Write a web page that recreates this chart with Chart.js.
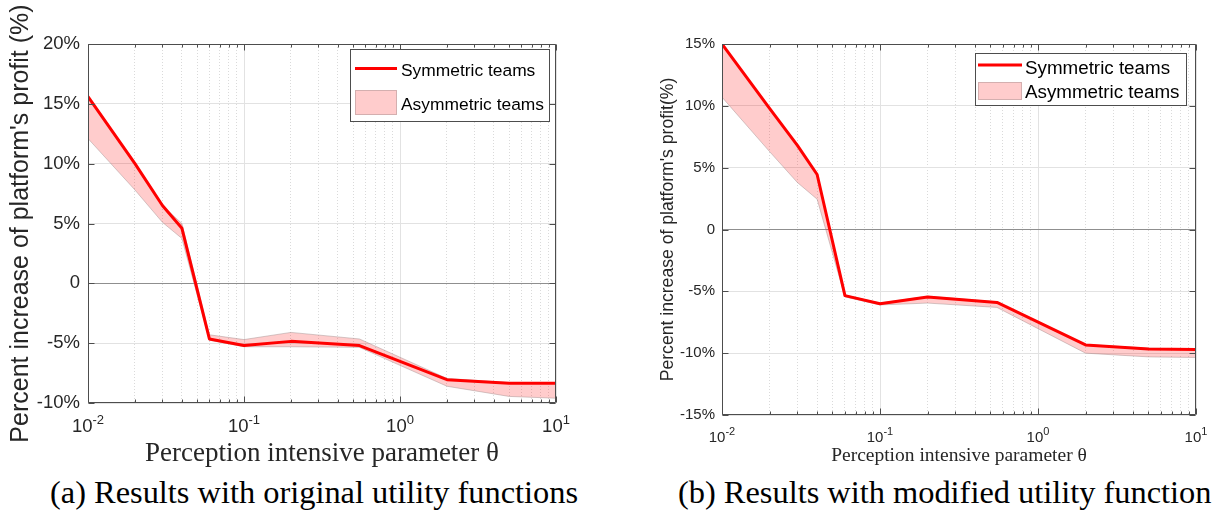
<!DOCTYPE html>
<html>
<head>
<meta charset="utf-8">
<script src="https://cdn.jsdelivr.net/npm/chart.js@4.4.0/dist/chart.umd.min.js"></script>
<style>
  html, body { margin: 0; padding: 0; background: #fff; }
  body { width: 1212px; height: 514px; position: relative; overflow: hidden; }
  .panel { position: absolute; top: 0; height: 470px; }
  #panelA { left: 0; width: 610px; }
  #panelB { left: 610px; width: 602px; }
  .caption { position: absolute; top: 476px; font-family: 'Liberation Serif', serif; font-size: 32.4px; line-height: 32px; color: #000; white-space: nowrap; }
</style>
</head>
<body>
<div class="panel" id="panelA"><canvas id="chartA" width="610" height="470"></canvas></div>
<div class="panel" id="panelB"><canvas id="chartB" width="602" height="470"></canvas></div>
<div class="caption" style="left:50px">(a) Results with original utility functions</div>
<div class="caption" style="left:678px">(b) Results with modified utility functions</div>

<script>
// perception parameter theta (shared by both panels)
const theta = [0.01, 0.02, 0.03, 0.04, 0.06, 0.1, 0.2, 0.55, 2, 5, 10];

// (a) original utility functions, % increase of platform profit
const symA      = [15.6, 10.0, 6.5, 4.6, -4.65, -5.2, -4.85, -5.2, -8.05, -8.35, -8.35];
const asymHighA = [15.6, 10.0, 6.5, 5.0, -4.3, -4.7, -4.1, -4.65, -7.95, -8.3, -8.3];
const asymLowA  = [12.1, 7.8, 5.1, 3.75, -4.75, -5.3, -5.3, -5.35, -8.6, -9.45, -9.6];

// (b) modified utility functions
const symB      = [15.0, 9.8, 6.8, 4.45, -5.35, -6.0, -5.45, -5.9, -9.33, -9.67, -9.7];
const asymHighB = [15.0, 9.8, 6.8, 4.45, -5.3, -5.95, -5.4, -5.85, -9.3, -9.6, -9.65];
const asymLowB  = [10.7, 6.3, 3.8, 2.45, -5.45, -6.1, -5.95, -6.3, -10.0, -10.3, -10.35];

// axis ticks
const xDecades = [0.01, 0.1, 1];
const xTickValues = [0.01, 0.1, 1, 10];
const xTickExponents = ['-2', '-1', '0', '1'];
const yTickStep = 5;

const TEXT = '#262626';
const AXIS = '#4d4d4d';
const GRID_MAJOR = '#e2e2e2';
const GRID_MINOR = '#dadada';
const ZERO_LINE = '#8f8f8f';
const RED = '#ff0000';
const BAND = 'rgba(255, 0, 0, 0.2)';
const BAND_EDGE = 'rgba(160, 140, 140, 0.45)';

// 1..9 x each decade, plus the last decade
const logGridValues = [];
xDecades.forEach(d => {
    for (let k = 1; k <= 9; k++) logGridValues.push(Number((k * d).toPrecision(6)));
});
logGridValues.push(10);

function isDecade(v) {
    const l = Math.log10(v);
    return Math.abs(l - Math.round(l)) < 1e-6;
}

function toPoints(vals) {
    return theta.map((t, i) => ({ x: t, y: vals[i] }));
}

// box around the plot with inward ticks on all four sides
const axesBox = {
    id: 'axesBox',
    afterDatasetsDraw(chart) {
        const { ctx, chartArea: a, scales: { x, y } } = chart;
        const L = Math.round(a.left) + 0.5, R = Math.round(a.right) - 0.5;
        const T = Math.round(a.top) + 0.5, B = Math.round(a.bottom) - 0.5;
        ctx.save();
        ctx.strokeStyle = AXIS;
        ctx.lineWidth = 1;
        ctx.beginPath();
        x.ticks.forEach(t => {
            const px = Math.round(x.getPixelForValue(t.value)) + 0.5;
            const len = isDecade(t.value) ? 6 : 3;
            ctx.moveTo(px, B); ctx.lineTo(px, B - len);
            ctx.moveTo(px, T); ctx.lineTo(px, T + len);
        });
        y.ticks.forEach(t => {
            const py = Math.round(y.getPixelForValue(t.value)) + 0.5;
            ctx.moveTo(L, py); ctx.lineTo(L + 6, py);
            ctx.moveTo(R, py); ctx.lineTo(R - 6, py);
        });
        ctx.rect(L, T, R - L, B - T);
        ctx.stroke();
        ctx.restore();
    }
};

// "10" with a raised exponent under each decade
const logTickLabels = {
    id: 'logTickLabels',
    afterDraw(chart, args, o) {
        const { ctx, scales: { x } } = chart;
        const baseFont = `${o.size}px "Liberation Sans"`;
        const expFont = `${o.expSize}px "Liberation Sans"`;
        ctx.save();
        ctx.fillStyle = TEXT;
        ctx.textBaseline = 'alphabetic';
        xTickValues.forEach((v, i) => {
            ctx.font = baseFont;
            const wb = ctx.measureText('10').width;
            ctx.font = expFont;
            const we = ctx.measureText(xTickExponents[i]).width;
            const left = x.getPixelForValue(v) - (wb + we) / 2;
            ctx.font = baseFont;
            ctx.fillText('10', left, o.baseline);
            ctx.font = expFont;
            ctx.fillText(xTickExponents[i], left + wb, o.baseline - o.raise);
        });
        ctx.restore();
    }
};

// legend box in the upper right corner of the plot
const boxLegend = {
    id: 'boxLegend',
    afterDraw(chart, args, o) {
        const ctx = chart.ctx;
        const sym = chart.data.datasets[0];
        const asym = chart.data.datasets[2];
        ctx.save();
        ctx.fillStyle = '#fff';
        ctx.fillRect(o.x, o.y, o.w, o.h);
        ctx.strokeStyle = AXIS;
        ctx.lineWidth = 1;
        ctx.strokeRect(o.x + 0.5, o.y + 0.5, o.w, o.h);

        ctx.strokeStyle = sym.borderColor;
        ctx.lineWidth = 3;
        ctx.beginPath();
        ctx.moveTo(o.sx0, o.lineY);
        ctx.lineTo(o.sx1, o.lineY);
        ctx.stroke();

        ctx.fillStyle = asym.backgroundColor;
        ctx.fillRect(o.sx0, o.rectTop, o.sx1 - o.sx0, o.rectH);
        ctx.strokeStyle = asym.borderColor;
        ctx.lineWidth = 1;
        ctx.strokeRect(o.sx0 + 0.5, o.rectTop + 0.5, o.sx1 - o.sx0 - 1, o.rectH - 1);

        ctx.fillStyle = '#000';
        ctx.font = `${o.fontSize}px "Liberation Sans"`;
        ctx.textBaseline = 'alphabetic';
        ctx.fillText(sym.label, o.tx, o.base1);
        ctx.fillText(asym.label, o.tx, o.base2);
        ctx.restore();
    }
};

function makeChart(id, sym, high, low, cfg) {
    return new Chart(document.getElementById(id), {
        type: 'line',
        data: {
            datasets: [
                { label: 'Symmetric teams', data: toPoints(sym), borderColor: RED, borderWidth: 3, fill: false },
                { label: 'Asymmetric teams (low)', data: toPoints(low), borderColor: BAND_EDGE, borderWidth: 1, fill: false },
                { label: 'Asymmetric teams', data: toPoints(high), borderColor: BAND_EDGE, borderWidth: 1,
                  backgroundColor: BAND, fill: '-1' }
            ]
        },
        options: {
            responsive: false,
            animation: false,
            layout: { padding: { left: 0, top: 44, right: cfg.padRight, bottom: 0 } },
            elements: { point: { radius: 0 }, line: { tension: 0, borderJoinStyle: 'round' } },
            plugins: {
                legend: { display: false },
                tooltip: { enabled: false },
                logTickLabels: cfg.xLabels,
                boxLegend: cfg.legend
            },
            scales: {
                x: {
                    type: 'logarithmic',
                    min: 0.01,
                    max: 10,
                    afterBuildTicks: s => {
                        s.ticks = logGridValues.map(v => ({ value: v, major: isDecade(v) }));
                    },
                    afterFit: s => { s.height = cfg.xAxisHeight; },
                    ticks: { display: false, autoSkip: false },
                    grid: {
                        drawTicks: false,
                        lineWidth: 1,
                        color: c => (c.tick && !isDecade(c.tick.value)) ? GRID_MINOR : GRID_MAJOR
                    },
                    border: {
                        display: false,
                        dash: c => (c.tick && !isDecade(c.tick.value)) ? [1, 2] : []
                    },
                    title: {
                        display: true,
                        text: 'Perception intensive parameter θ',
                        color: TEXT,
                        font: { family: 'Liberation Serif', size: cfg.xTitleSize },
                        padding: { top: 0, bottom: cfg.xTitlePad }
                    }
                },
                y: {
                    min: cfg.yMin,
                    max: cfg.yMax,
                    afterFit: s => { s.width = cfg.yAxisWidth; },
                    ticks: {
                        stepSize: yTickStep,
                        padding: cfg.yTickPad,
                        color: TEXT,
                        font: { family: 'Liberation Sans', size: cfg.yTickSize },
                        callback: v => v === 0 ? '0' : v + '%'
                    },
                    grid: {
                        drawTicks: false,
                        color: c => (c.tick && c.tick.value === 0) ? ZERO_LINE : GRID_MAJOR
                    },
                    border: { display: false },
                    title: {
                        display: true,
                        text: cfg.yTitle,
                        color: TEXT,
                        font: { family: 'Liberation Sans', size: cfg.yTitleSize },
                        padding: { top: cfg.yTitlePad, bottom: 0 }
                    }
                }
            }
        },
        plugins: [axesBox, logTickLabels, boxLegend]
    });
}

makeChart('chartA', symA, asymHighA, asymLowA, {
    padRight: 54, xAxisHeight: 67, yAxisWidth: 88,
    yMin: -10, yMax: 20, yTickPad: 8, yTickSize: 18.5,
    yTitle: "Percent increase of platform's profit (%)", yTitleSize: 25, yTitlePad: 6.5,
    xTitleSize: 27, xTitlePad: 0,
    xLabels: { size: 18.5, expSize: 13, baseline: 432, raise: 7.7 },
    legend: { x: 350, y: 49, w: 199, h: 72, sx0: 355, sx1: 397, lineY: 68.5,
              rectTop: 90, rectH: 25, tx: 401, base1: 76.2, base2: 109.5, fontSize: 17.4 }
});

makeChart('chartB', symB, asymHighB, asymLowB, {
    padRight: 16, xAxisHeight: 55, yAxisWidth: 112,
    yMin: -15, yMax: 15, yTickPad: 7, yTickSize: 15,
    yTitle: "Percent increase of platform's profit(%)", yTitleSize: 17.6, yTitlePad: 47.4,
    xTitleSize: 19.5, xTitlePad: 2,
    xLabels: { size: 15, expSize: 11, baseline: 442.4, raise: 7.5 },
    legend: { x: 365, y: 53, w: 211, h: 52, sx0: 368, sx1: 412, lineY: 65,
              rectTop: 82, rectH: 18, tx: 415, base1: 74.2, base2: 98.4, fontSize: 18.8 }
});
</script>
</body>
</html>
